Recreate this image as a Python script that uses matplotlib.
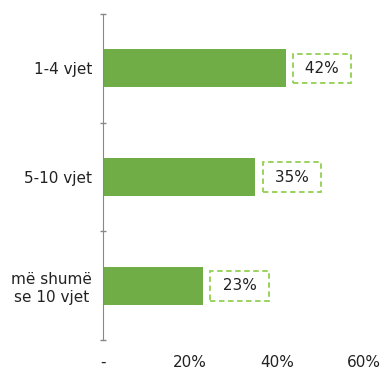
import matplotlib
matplotlib.use("Agg")
import matplotlib.pyplot as plt
import numpy as np

categories = ["1-4 vjet", "5-10 vjet", "më shumë\nse 10 vjet"]
values = [42, 35, 23]
xtick_vals = [0, 20, 40, 60]
xtick_labels = ["-", "20%", "40%", "60%"]

plt.rcParams['font.family'] = ['DejaVu Sans']
fig = plt.figure(figsize=(3.86, 3.69), dpi=100)
ax = fig.add_axes([103/386, 29/369, (364-103)/386, (340-14)/369])

y = np.arange(len(categories))
ax.barh(y, values, height=0.35, color="#70AD47", zorder=2)
ax.set_ylim(len(categories) - 0.5, -0.5)
ax.set_xlim(0, 60)

ax.set_yticks(y)
ax.set_yticklabels(categories, fontsize=11, color="#222222", linespacing=1.25,
                   multialignment='center')
ax.tick_params(axis='y', length=0, pad=8)
ax.set_yticks(np.arange(-0.5, len(categories), 1), minor=True)
ax.tick_params(axis='y', which='minor', length=4, width=1, color="#888888", direction='inout')

ax.set_xticks(xtick_vals)
ax.set_xticklabels(xtick_labels, fontsize=11, color="#222222")
ax.tick_params(axis='x', length=0, pad=11)

for s in ['top', 'right', 'bottom']:
    ax.spines[s].set_visible(False)
ax.spines['left'].set_color("#888888")

for yi, v in zip(y, values):
    ax.annotate(f" {v}% ", xy=(v, yi), xytext=(10.5, 0), textcoords='offset points',
                va='center', ha='left', fontsize=11, color="#222222",
                bbox=dict(boxstyle='square,pad=0.48', fc='white', ec='#92D050',
                          ls=(0, (3, 2)), lw=1.3))

fig.savefig("out.png", dpi=100)
